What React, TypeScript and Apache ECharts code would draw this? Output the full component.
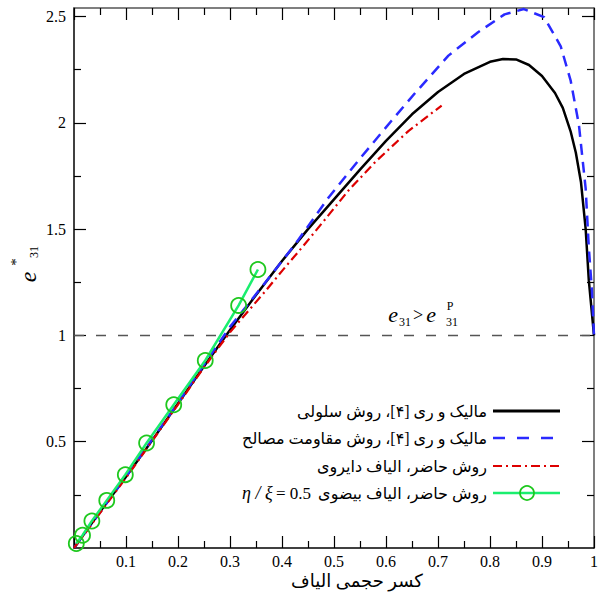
import React, { useEffect, useRef } from "react";
import * as echarts from "echarts";

// ---- data ----
const blackX = [0, 0.05, 0.1, 0.15, 0.2, 0.25, 0.3, 0.35, 0.4, 0.45, 0.5, 0.55, 0.6, 0.65, 0.7, 0.75, 0.8, 0.825, 0.85, 0.875, 0.9, 0.925, 0.94, 0.955, 0.965, 0.975, 0.984, 0.99, 0.995, 1.0];
const blackY = [0, 0.17, 0.335, 0.505, 0.68, 0.855, 1.025, 1.19, 1.35, 1.5, 1.64, 1.78, 1.915, 2.04, 2.145, 2.23, 2.287, 2.3, 2.298, 2.272, 2.22, 2.14, 2.07, 1.96, 1.86, 1.72, 1.5, 1.26, 1.13, 1.0];

const blueX = [0, 0.1, 0.2, 0.25, 0.3, 0.366, 0.426, 0.49, 0.547, 0.611, 0.656, 0.72, 0.777, 0.828, 0.865, 0.904, 0.936, 0.955, 0.971, 0.984, 0.99, 0.996, 1.0];
const blueY = [0, 0.336, 0.682, 0.862, 1.04, 1.243, 1.431, 1.65, 1.823, 2.011, 2.14, 2.316, 2.426, 2.51, 2.535, 2.497, 2.36, 2.2, 1.99, 1.69, 1.415, 1.21, 1.0];

const redX = [0, 0.1, 0.2, 0.25, 0.3, 0.369, 0.401, 0.439, 0.484, 0.528, 0.579, 0.643, 0.707];
const redY = [0, 0.33, 0.675, 0.85, 1.015, 1.211, 1.306, 1.415, 1.549, 1.682, 1.815, 1.961, 2.081];

const greenX = [0.0044, 0.0164, 0.0344, 0.063, 0.0987, 0.1396, 0.1918, 0.2524, 0.3166, 0.3537];
const greenY = [0.021, 0.06, 0.127, 0.224, 0.345, 0.494, 0.674, 0.882, 1.141, 1.31];

const refX = [0, 1];
const refY = [1, 1];

const yMajorTicks = [0.5, 1, 1.5, 2, 2.5];
const yMinorTicks = [0.25, 0.75, 1.25, 1.75, 2.25];

const legendLabels = [
  "مالیک و ری [۴]، روش سلولی",
  "مالیک و ری [۴]، روش مقاومت مصالح",
  "روش حاضر، الیاف دایروی",
  "روش حاضر، الیاف بیضوی",
];
const xTitle = "کسر حجمی الیاف";

const zip = (xs: number[], ys: number[]) => xs.map((x, i) => [x, ys[i]]);

const SERIF = '"Liberation Serif", "Times New Roman", serif';
const FA = '"Liberation Serif", "DejaVu Sans", serif';

export default function App() {
  const ref = useRef<HTMLDivElement>(null);
  useEffect(() => {
    if (!ref.current) return;
    const chart = echarts.init(ref.current, undefined, { renderer: "svg" });

    const xBase = (pos: "bottom" | "top", labels: boolean) => ({
      type: "value",
      position: pos,
      min: 0,
      max: 1,
      interval: 0.1,
      axisLine: { show: true, onZero: false, lineStyle: { color: pos === "bottom" ? "#000" : "#555", width: 1.5 } },
      axisTick: { show: true, inside: true, length: 12, lineStyle: { color: "#000", width: 1.2 } },
      minorTick: { show: true, splitNumber: 2, length: 7, lineStyle: { color: "#000", width: 1.2 } },
      axisLabel: {
        show: labels,
        showMinLabel: false,
        margin: 5,
        color: "#000",
        fontFamily: SERIF,
        fontSize: 16,
      },
      splitLine: { show: false },
      minorSplitLine: { show: false },
    });

    const yBase = (pos: "left" | "right", ticks: number[], len: number, line: boolean, labels: boolean) => ({
      type: "value",
      position: pos,
      min: 0,
      max: 2.54,
      axisLine: { show: line, onZero: false, lineStyle: { color: pos === "left" ? "#000" : "#555", width: 1.5 } },
      axisTick: { show: true, inside: true, length: len, customValues: ticks, lineStyle: { color: "#000", width: 1.2 } },
      axisLabel: {
        show: labels,
        customValues: yMajorTicks,
        margin: 8,
        color: "#000",
        fontFamily: SERIF,
        fontSize: 16,
      },
      splitLine: { show: false },
    });

    const legendY = [411, 438, 466, 493];
    const lx1 = 493;
    const lx2 = 560;
    const textRight = 487;

    const graphic: any[] = [];
    // legend samples
    graphic.push({ type: "line", shape: { x1: lx1, y1: legendY[0], x2: lx2, y2: legendY[0] }, style: { stroke: "#000", lineWidth: 3 } });
    graphic.push({ type: "line", shape: { x1: lx1, y1: legendY[1], x2: 553, y2: legendY[1] }, style: { stroke: "#2a2aff", lineWidth: 2.5, lineDash: [12, 12] } });
    graphic.push({ type: "line", shape: { x1: lx1, y1: legendY[2], x2: lx2, y2: legendY[2] }, style: { stroke: "#dd0000", lineWidth: 2, lineDash: [9, 4, 2, 4] } });
    graphic.push({ type: "line", shape: { x1: lx1, y1: legendY[3], x2: lx2, y2: legendY[3] }, style: { stroke: "#1aee6e", lineWidth: 2.5 } });
    graphic.push({ type: "circle", shape: { cx: 527, cy: legendY[3], r: 7 }, style: { fill: "none", stroke: "#1ec81e", lineWidth: 1.8 } });
    legendLabels.forEach((t, i) => {
      graphic.push({
        type: "text",
        x: textRight,
        y: legendY[i],
        style: { text: t, align: "right", verticalAlign: "middle", fontFamily: FA, fontSize: 16, fill: "#000" },
      });
    });
    // eta / xi = 0.5
    graphic.push({
      type: "text",
      x: 311,
      y: legendY[3],
      style: {
        text: "{i|η / ξ} {n|= 0.5}",
        align: "right",
        verticalAlign: "middle",
        fill: "#000",
        rich: {
          i: { fontFamily: SERIF, fontStyle: "italic", fontSize: 18 },
          n: { fontFamily: SERIF, fontSize: 17 },
        },
      },
    });
    // x title
    graphic.push({
      type: "text",
      x: 357,
      y: 581,
      style: { text: xTitle, align: "center", verticalAlign: "middle", fontFamily: FA, fontSize: 18, fill: "#000" },
    });
    // y title (rotated)
    graphic.push({
      type: "group",
      x: 28,
      y: 277,
      rotation: Math.PI / 2,
      children: [
        { type: "text", x: 0, y: 0, style: { text: "e", align: "center", verticalAlign: "middle", fontFamily: SERIF, fontStyle: "italic", fontSize: 24, fill: "#000" } },
        { type: "text", x: 15, y: -12, style: { text: "*", align: "center", verticalAlign: "middle", fontFamily: SERIF, fontSize: 15, fill: "#000" } },
        { type: "text", x: 25, y: 6, style: { text: "31", align: "center", verticalAlign: "middle", fontFamily: SERIF, fontSize: 12, fill: "#000" } },
      ],
    });
    // annotation e31 > e31^P
    const ann = (t: string, x: number, y: number, size: number, italic = false) => ({
      type: "text",
      x,
      y,
      style: { text: t, align: "center", verticalAlign: "middle", fontFamily: SERIF, fontStyle: italic ? "italic" : "normal", fontSize: size, fill: "#000" },
    });
    graphic.push(ann("e", 393, 314, 22, true));
    graphic.push(ann("31", 405, 322, 12));
    graphic.push(ann(">", 418, 315, 18));
    graphic.push(ann("e", 431, 314, 22, true));
    graphic.push(ann("P", 450, 306, 12));
    graphic.push(ann("31", 452, 322, 12));

    chart.setOption({
      animation: false,
      backgroundColor: "#fff",
      grid: { left: 74, right: 5, top: 8, bottom: 44, containLabel: false },
      xAxis: [xBase("bottom", true), xBase("top", false)],
      yAxis: [
        yBase("left", yMajorTicks, 12, true, true),
        yBase("left", yMinorTicks, 7, false, false),
        yBase("right", yMajorTicks, 12, true, false),
        yBase("right", yMinorTicks, 7, false, false),
      ],
      series: [
        {
          type: "line",
          data: zip(refX, refY),
          symbol: "none",
          silent: true,
          lineStyle: { color: "#555", width: 1.5, type: [10, 12] },
        },
        {
          type: "line",
          data: zip(blackX, blackY),
          symbol: "none",
          lineStyle: { color: "#000", width: 2.5 },
        },
        {
          type: "line",
          data: zip(blueX, blueY),
          symbol: "none",
          lineStyle: { color: "#2a2aff", width: 2.5, type: [11, 7] },
        },
        {
          type: "line",
          data: zip(redX, redY),
          symbol: "none",
          lineStyle: { color: "#dd0000", width: 2.2, type: [9, 4, 2, 4] },
        },
        {
          type: "line",
          data: zip(greenX, greenY),
          symbol: "circle",
          symbolSize: 15,
          lineStyle: { color: "#1aee6e", width: 2.5 },
          itemStyle: { color: "rgba(0,0,0,0)", borderColor: "#1ec81e", borderWidth: 1.8 },
        },
      ],
      graphic,
    });
    return () => chart.dispose();
  }, []);

  return <div ref={ref} style={{ position: "fixed", left: 0, top: 0, width: 601, height: 592 }} />;
}
